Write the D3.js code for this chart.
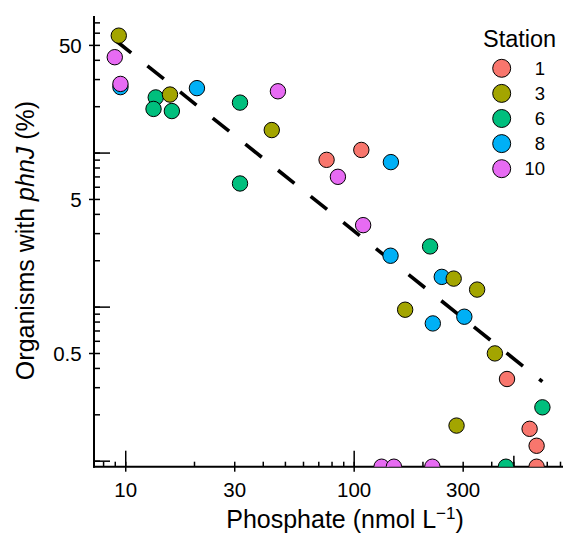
<!DOCTYPE html>
<html>
<head>
<meta charset="utf-8">
<script src="https://cdn.jsdelivr.net/npm/d3@7"></script>
<style>
  body { margin: 0; background: #fff; }
  svg { display: block; font-family: "Liberation Sans", Arial, Helvetica, sans-serif; }
</style>
</head>
<body>
<svg id="chart" width="563" height="536"></svg>
<script>
// stations in legend order, with ggplot's default hue colours
const stations = ["1", "3", "6", "8", "10"];
const stationColors = ["#F8766D", "#A3A500", "#00BF7D", "#00B0F6", "#E76BF3"];

// phosphate (nmol/L) and organisms with phnJ (%) for each station
// a 0 means below the bottom of the axis (drawn on the axis line)
const st1Phosphate = [76.1, 108, 469, 589, 632, 632];
const st1PhnJ      = [8.97, 10.4, 0.339, 0.161, 0.125, 0];
const st3Phosphate = [9.37, 15.7, 43.8, 168, 274, 347, 415, 282];
const st3PhnJ      = [57.4, 23.8, 14.0, 0.955, 1.52, 1.29, 0.497, 0.169];
const st6Phosphate = [13.6, 13.3, 16.0, 31.8, 31.8, 216, 670, 464];
const st6PhnJ      = [22.8, 19.2, 18.6, 21.1, 6.3, 2.46, 0.222, 0];
const st8Phosphate = [9.53, 20.6, 145.5, 145, 243, 222, 305];
const st8PhnJ      = [26.6, 26.2, 8.67, 2.14, 1.56, 0.778, 0.86];
const st10Phosphate = [9.0, 9.53, 46.6, 85.3, 110, 132.5, 150, 221];
const st10PhnJ      = [41.6, 27.9, 25.0, 6.96, 3.38, 0, 0, 0];

// dashed fit line, end points
const fitPhosphate = [9.0, 670];
const fitPhnJ = [54.0, 0.326];

// axis ticks
const xTickValues = [10, 30, 100, 300];
const xTickLabels = ["10", "30", "100", "300"];
const yTickValues = [0.5, 5, 50];
const yTickLabels = ["0.5", "5", "50"];

const stationData = {
  "1": [st1Phosphate, st1PhnJ],
  "3": [st3Phosphate, st3PhnJ],
  "6": [st6Phosphate, st6PhnJ],
  "8": [st8Phosphate, st8PhnJ],
  "10": [st10Phosphate, st10PhnJ]
};
// order the points are painted in (later ones on top)
const drawOrder = ["8", "6", "3", "1", "10"];

const svg = d3.select("#chart");
const padL = 94, padT = 16, padB = 466.7, padR = 596, viewRight = 563;

const x = d3.scaleLog().domain([7.3, 1150]).range([padL, padR]);
const y = d3.scaleLog().domain([0.0914, 77]).range([padB, padT]).clamp(true);
const color = d3.scaleOrdinal().domain(stations).range(stationColors);

svg.append("defs").append("clipPath").attr("id", "panel")
  .append("rect")
  .attr("x", padL).attr("y", padT)
  .attr("width", padR - padL).attr("height", padB - padT);

// ---- axes ----
const minorX = x.ticks().filter(v => x(v) <= viewRight);
const minorY = y.ticks();

const xg = svg.append("g").attr("transform", `translate(0,${padB})`);
xg.append("g").call(d3.axisBottom(x).tickValues(minorX).tickSize(-5).tickFormat(""));
xg.append("g").call(d3.axisBottom(x).tickValues([10, 100]).tickSize(-16).tickFormat(""));
xg.append("g").call(d3.axisBottom(x).tickValues([500]).tickSize(-11).tickFormat(""));
xg.append("g").call(d3.axisBottom(x).tickValues(xTickValues).tickSize(5)
  .tickFormat((d, i) => xTickLabels[i]));
xg.selectAll(".domain").remove();
xg.selectAll("text").attr("y", 30.5).attr("dy", null)
  .attr("font-size", 20.5).attr("fill", "#000");
xg.selectAll("g").attr("font-family", null).attr("font-size", null);

const yg = svg.append("g").attr("transform", `translate(${padL},0)`);
yg.append("g").call(d3.axisLeft(y).tickValues(minorY).tickSize(-6).tickFormat(""));
yg.append("g").call(d3.axisLeft(y).tickValues([0.1, 1, 10]).tickSize(-16).tickFormat(""));
yg.append("g").call(d3.axisLeft(y).tickValues(yTickValues).tickSize(5).tickPadding(7.3)
  .tickFormat((d, i) => yTickLabels[i]));
yg.selectAll(".domain").remove();
yg.selectAll("text").attr("font-size", 20.5).attr("fill", "#000").attr("dy", "0.35em");
yg.selectAll("g").attr("font-family", null).attr("font-size", null);

svg.selectAll(".tick line").attr("stroke", "#000").attr("stroke-width", 1.5);

// axis lines
svg.append("line").attr("x1", padL).attr("x2", padL).attr("y1", padT).attr("y2", padB + 1)
  .attr("stroke", "#000").attr("stroke-width", 2);
svg.append("line").attr("x1", padL - 1).attr("x2", padR).attr("y1", padB).attr("y2", padB)
  .attr("stroke", "#000").attr("stroke-width", 2);

// ---- fit line ----
const fit = fitPhosphate.map((v, i) => [v, fitPhnJ[i]]);
svg.append("path")
  .datum(fit)
  .attr("d", d3.line().x(d => x(d[0])).y(d => y(d[1])))
  .attr("fill", "none")
  .attr("stroke", "#000")
  .attr("stroke-width", 3.6)
  .attr("stroke-dasharray", "21,20.8");

// ---- points ----
const points = [];
drawOrder.forEach(s => {
  const [px, py] = stationData[s];
  px.forEach((v, i) => points.push({ station: s, p: v, phn: py[i] }));
});

svg.append("g").attr("clip-path", "url(#panel)")
  .selectAll("circle")
  .data(points)
  .join("circle")
  .attr("cx", d => x(d.p))
  .attr("cy", d => y(d.phn))
  .attr("r", 7.7)
  .attr("fill", d => color(d.station))
  .attr("stroke", "#000")
  .attr("stroke-width", 1);

// ---- titles ----
const xt = svg.append("text")
  .attr("x", 345).attr("y", 527.5)
  .attr("text-anchor", "middle")
  .attr("font-size", 25);
xt.append("tspan").text("Phosphate (nmol L");
xt.append("tspan").attr("font-size", 17).attr("dy", -9).text("\u22121");
xt.append("tspan").attr("dy", 9).text(")");

const yt = svg.append("text")
  .attr("transform", "translate(34,240.5) rotate(-90)")
  .attr("text-anchor", "middle")
  .attr("font-size", 25);
yt.append("tspan").text("Organisms with ");
yt.append("tspan").attr("font-style", "italic").text("phnJ");
yt.append("tspan").text(" (%)");

// ---- legend ----
const lg = svg.append("g");
lg.append("text").attr("x", 483).attr("y", 47).attr("font-size", 23.5).text("Station");
const item = lg.selectAll(".item").data(stations).join("g")
  .attr("class", "item")
  .attr("transform", (d, i) => `translate(0,${68.3 + i * 25.1})`);
item.append("circle")
  .attr("cx", 501.7).attr("r", 9)
  .attr("fill", d => color(d))
  .attr("stroke", "#000").attr("stroke-width", 1);
item.append("text")
  .attr("x", 545).attr("dy", "0.36em")
  .attr("text-anchor", "end")
  .attr("font-size", 18.5)
  .text(d => d);
</script>
</body>
</html>
